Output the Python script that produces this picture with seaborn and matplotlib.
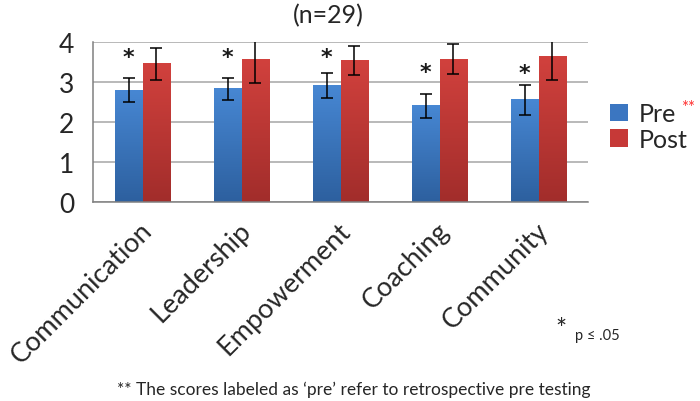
import matplotlib
matplotlib.use('Agg')
import pandas as pd
import numpy as np
import matplotlib.pyplot as plt
import matplotlib.colors as mcolors
import seaborn as sns

# data
categories = ['Communication', 'Leadership', 'Empowerment', 'Coaching', 'Community']
pre_mean = [2.79, 2.83, 2.91, 2.41, 2.55]
post_mean = [3.45, 3.57, 3.54, 3.57, 3.63]
pre_err = [0.30, 0.28, 0.31, 0.30, 0.385]
post_err = [0.40, 0.60, 0.36, 0.38, 0.57]
star_y = [3.62, 3.62, 3.62, 3.25, 3.22]

df = pd.DataFrame({
    'skill': categories * 2,
    'group': ['Pre'] * 5 + ['Post'] * 5,
    'score': pre_mean + post_mean,
})

sns.set_style('white')
plt.rcParams['font.family'] = ['Lato', 'DejaVu Sans']

fig = plt.figure(figsize=(7, 4.02), dpi=100)
ax = fig.add_axes([93 / 700, 1 - 203 / 402, 495 / 700, 160 / 402])

sns.barplot(data=df, x='skill', y='score', hue='group',
            palette={'Pre': '#3b76c1', 'Post': '#c63937'},
            width=0.56, errorbar=None, saturation=1, linewidth=0,
            ax=ax, zorder=2)

# vertical shading on the bars, like the office-style gradient
shades = [('#4787d3', '#2d609f'), ('#d1413d', '#a22d2b')]
for cont, (top, bot) in zip(ax.containers, shades):
    c0 = np.array(mcolors.to_rgb(top))
    c1 = np.array(mcolors.to_rgb(bot))
    for p in cont:
        t = np.linspace(0, 1, 64)[:, None]
        img = (c0 * (1 - t) + c1 * t)[:, None, :]
        x0, w, h = p.get_x(), p.get_width(), p.get_height()
        ax.imshow(img, extent=[x0, x0 + w, 0, h], aspect='auto',
                  origin='upper', zorder=2.1, interpolation='bilinear')

# error bars
errs = [pre_err, post_err]
for cont, e in zip(ax.containers, errs):
    xs = [p.get_x() + p.get_width() / 2 for p in cont]
    hs = [p.get_height() for p in cont]
    ax.errorbar(xs, hs, yerr=e, fmt='none', ecolor='black', elinewidth=1.1,
                capsize=4, capthick=1.1, zorder=3)

# significance stars above the pre bars
for p, sy in zip(ax.containers[0], star_y):
    ax.text(p.get_x() + p.get_width() / 2, sy, '*', ha='center', va='center',
            fontsize=16, fontweight='bold', color='#1a1a1a',
            family='DejaVu Sans')

ax.set_ylim(0, 4)
ax.set_xlim(-0.5, 4.5)
ax.set_yticks([0, 1, 2, 3, 4])
ax.yaxis.grid(True, color='#a6a6a6', linewidth=1.1, zorder=0)
ax.set_axisbelow(True)
for s in ['top', 'right']:
    ax.spines[s].set_visible(False)
for s in ['left', 'bottom']:
    ax.spines[s].set_color('#808080')
    ax.spines[s].set_linewidth(1.1)

# boundary ticks between groups; labels nudged a little left of centre
ax.set_xticks(np.arange(-0.5, 5, 1), minor=True)
ax.set_xticks(np.arange(5) - 0.03)
ax.set_xticklabels(categories, rotation=45, ha='right', va='top',
                   rotation_mode='anchor', fontsize=19.5)
ax.tick_params(axis='x', which='major', length=0, pad=11)
ax.tick_params(axis='x', which='minor', length=7, color='#808080', width=1.1)
ax.tick_params(axis='y', length=6.5, color='#808080', width=1.1,
               labelsize=19, pad=7)
ax.set_xlabel('')
ax.set_ylabel('')

ax.legend(loc='center left', bbox_to_anchor=(610 / 700, 1 - 127.5 / 402),
          bbox_transform=fig.transFigure, frameon=False, fontsize=18,
          handlelength=0.7, handleheight=0.7, handletextpad=0.45,
          labelspacing=0.1, borderaxespad=0, borderpad=0)
fig.text(681 / 700, 1 - 108 / 402, '**', color='#ff3030', fontsize=12,
         ha='left', va='center')

fig.text(328 / 700, 1 - 16 / 402, '(n=29)', ha='center', va='center', fontsize=18)
fig.text(561 / 700, 1 - 330 / 402, '*', ha='center', va='center', fontsize=19)
fig.text(575 / 700, 1 - 336 / 402, 'p ≤ .05', ha='left', va='center', fontsize=10.5)
fig.text(354 / 700, 1 - 390 / 402,
         '** The scores labeled as \u2018pre\u2019 refer to retrospective pre testing',
         ha='center', va='center', fontsize=12.5)

fig.savefig('out.png', dpi=100)
